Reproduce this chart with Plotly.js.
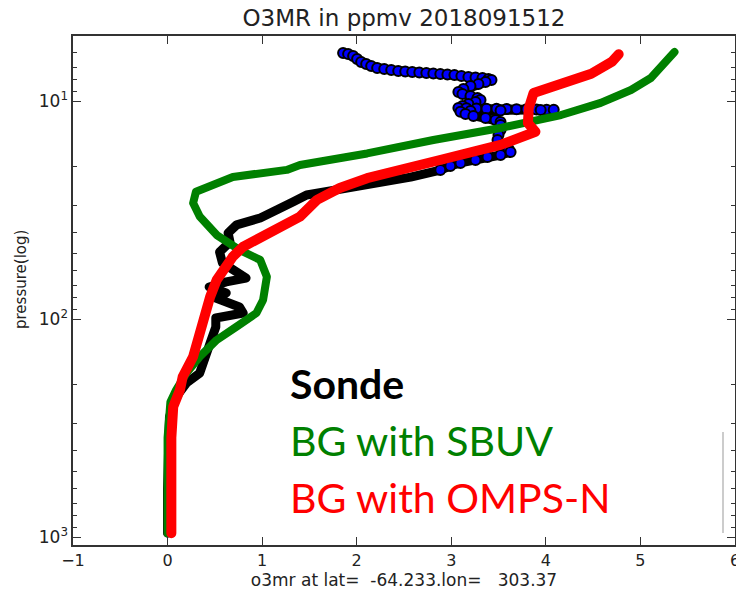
<!DOCTYPE html>
<html>
<head>
<meta charset="utf-8">
<script src="https://cdn.plot.ly/plotly-3.0.1.min.js"></script>
<style>
html,body{margin:0;padding:0;background:#fff;}
#chart{width:736px;height:590px;}
.scatterlayer .js-line{stroke-linejoin:round;stroke-linecap:round;}
</style>
</head>
<body>
<div id="chart"></div>
<script>
// Sonde profile (o3mr ppmv, pressure hPa)
const sondeX = [1.856,1.909,1.962,2.004,2.047,2.100,2.153,2.216,2.291,2.365,2.439,2.513,2.587,2.662,2.736,2.810,2.884,2.959,3.033,3.107,3.181,3.256,3.330,3.393,3.425,
  3.362,3.287,3.203,3.128,3.075,3.118,3.203,3.277,3.309,3.256,3.181,3.118,3.075,
  3.160,3.266,3.372,3.478,3.584,3.690,3.796,3.902,4.008,4.083,
  3.945,3.521,3.203,3.097,
  3.150,3.234,3.362,3.468,3.521,3.521,3.521,3.499,3.489,3.542,3.606,3.627,3.521,3.383,3.256,3.097,2.990,2.884,
  2.57,2.28,1.93,1.58,1.47,1.33,1.12,0.98,0.73,0.64,0.66,0.55,0.58,0.76,0.83,0.62,0.44,0.62,0.51,0.76,0.80,0.51,0.51,0.45,0.41,0.34,0.20,0.09,0.02,0.0,0.0,0.0];
const sondeP = [6.02,6.09,6.22,6.42,6.63,6.77,6.91,7.06,7.13,7.21,7.28,7.32,7.36,7.40,7.44,7.48,7.52,7.56,7.60,7.68,7.76,7.80,7.84,7.93,8.01,
  8.18,8.36,8.54,8.81,9.09,9.29,9.49,9.69,9.89,10.11,10.32,10.54,10.77,
  10.80,10.82,10.84,10.86,10.88,10.90,10.92,10.94,10.96,10.98,
  11.0,11.05,11.1,11.2,
  11.47,11.72,11.97,12.22,12.48,12.89,13.59,14.32,15.1,15.92,16.6,17.14,17.69,18.07,18.65,19.24,19.87,20.73,
  22.33,23.53,24.8,26.1,26.98,29.0,32.3,34.4,37.0,40.3,44.3,49.3,55.3,61.5,64.9,67.6,71.3,76.0,80.1,88.1,93.9,98.9,108.8,128.9,149.3,177,196.6,228,281.5,400,600,960];

// Background with SBUV
const sbuvX = [5.36,5.30,5.22,5.11,4.90,4.58,4.16,3.52,2.81,2.11,1.40,1.26,0.69,0.30,0.27,0.34,0.52,0.76,0.98,1.05,1.01,0.94,0.73,0.52,0.34,0.20,0.09,0.03,0.0,0.0];
const sbuvP = [5.96,6.41,6.98,7.84,8.9,10.2,11.6,13.3,15.1,17.4,19.66,20.7,22.3,26.06,29.4,33.9,41.2,48.2,53.6,64.0,81.8,93.9,108.4,124.8,148.9,177,211.8,240,350,960];

// Background with OMPS-N
const ompsX = [4.77,4.70,4.48,4.16,3.87,3.82,3.81,3.89,3.52,2.88,2.46,2.11,1.82,1.64,1.58,1.40,1.15,0.80,0.69,0.52,0.45,0.37,0.27,0.16,0.13,0.06,0.05,0.04,0.04];
const ompsP = [6.1,6.6,7.5,8.27,9.2,10.77,12.61,13.83,15.9,18.65,20.7,22.6,25.06,27.5,28.4,33.9,39.1,46.6,51.8,66.2,79.1,108.4,149,184,212,252,281,350,960];

const xTicks = [-1,0,1,2,3,4,5,6];
const yTicks = [10,100,1000];
const yTickText = ['10<sup>1</sup>','10<sup>2</sup>','10<sup>3</sup>'];
const yMinor = [6,7,8,9,20,30,40,50,60,70,80,90,200,300,400,500,600,700,800,900];

const legendLabels = ['Sonde','BG with SBUV','BG with OMPS-N'];
const legendColors = ['#000000','#008000','#ff0000'];

// sparse upper part of sonde shows its blue markers
const markIdx = sondeP.map((p,i)=>i).filter(i=>sondeP[i] <= 21);

const traces = [
  {x: sondeX, y: sondeP, mode:'lines', line:{color:'#000000', width:9}, hoverinfo:'skip'},
  {x: markIdx.map(i=>sondeX[i]), y: markIdx.map(i=>sondeP[i]), mode:'markers',
   marker:{color:'#0000ff', size:10, line:{color:'#000000', width:2}}, hoverinfo:'skip'},
  {x: sbuvX, y: sbuvP, mode:'lines', line:{color:'#008000', width:8}, hoverinfo:'skip'},
  {x: ompsX, y: ompsP, mode:'lines', line:{color:'#ff0000', width:10}, hoverinfo:'skip'}
];

const yTop = 1 - 65/218, yBot = yTop + 509/218;

const layout = {
  width:736, height:590,
  margin:{l:73, r:1, t:36, b:45},
  paper_bgcolor:'#fff', plot_bgcolor:'#fff',
  showlegend:false,
  title:{text:'O3MR in ppmv 2018091512', font:{family:'DejaVu Sans', size:23, color:'#222'},
    xref:'paper', x:0.5, xanchor:'center', yref:'container', y:1-18/590, yanchor:'middle'},
  xaxis:{range:[-1,6], tickvals:xTicks, ticks:'inside', ticklen:8, tickwidth:1, tickcolor:'#333',
    showgrid:false, zeroline:false, showline:true, linecolor:'#333', linewidth:1.6, mirror:'allticks',
    tickfont:{family:'DejaVu Sans', size:16, color:'#222'}, ticklabeloverflow:'allow',
    title:{text:'o3mr at lat=\u00a0\u00a0-64.233.lon=\u00a0\u00a0\u00a0303.37', font:{family:'DejaVu Sans', size:17, color:'#222'}, standoff:2}},
  yaxis:{type:'log', range:[yBot, yTop], tickmode:'array', tickvals:yTicks, ticktext:yTickText,
    ticks:'inside', ticklen:8, tickwidth:1, tickcolor:'#333',
    minor:{tickvals:yMinor, ticks:'inside', ticklen:4, tickwidth:1, tickcolor:'#333', showgrid:false},
    showgrid:false, zeroline:false, showline:true, linecolor:'#333', linewidth:1.6, mirror:'allticks',
    tickfont:{family:'DejaVu Sans', size:17, color:'#222'}},
  shapes:[{type:'line', xref:'paper', yref:'paper', x0:(723-73)/662, x1:(723-73)/662, y0:(545-432)/509, y1:(545-533)/509,
    line:{color:'#999', width:1}}],
  annotations: [{text:'pressure(log)', xref:'paper', yref:'paper', x:(21-73)/662, y:(545-280)/509,
      xanchor:'center', yanchor:'middle', textangle:-90, showarrow:false,
      font:{family:'DejaVu Sans', size:15, color:'#222'}}].concat(
    legendLabels.map((t,i)=>({
    text: i===0 ? '<b>'+t+'</b>' : t, xref:'paper', yref:'paper',
    x:(288-73)/662, y:[0.318,0.206,0.094][i], xanchor:'left', yanchor:'middle', showarrow:false,
    font:{family:'Lato', size:41, color:legendColors[i]}
  })))
};

Plotly.newPlot('chart', traces, layout, {staticPlot:true, displayModeBar:false});
</script>
</body>
</html>
